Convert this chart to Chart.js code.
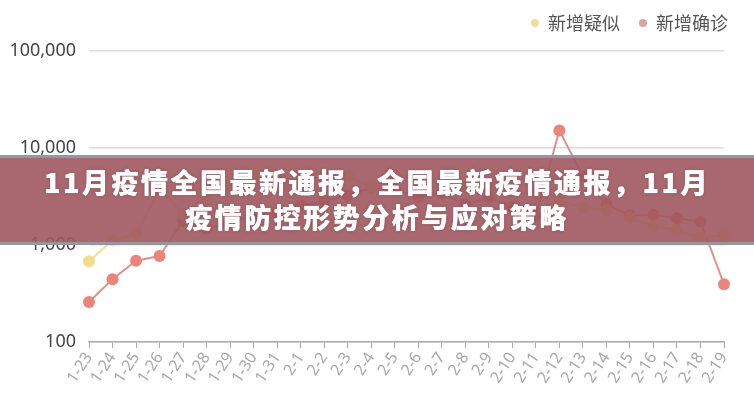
<!DOCTYPE html>
<html>
<head>
<meta charset="utf-8">
<script src="https://cdn.jsdelivr.net/npm/chart.js@4/dist/chart.umd.min.js"></script>
<style>
    html, body { margin: 0; padding: 0; background: #fff; }
    #wrap { position: relative; width: 754px; height: 400px; overflow: hidden; }
    #chart { position: absolute; left: 0; top: 0; }
    .banner {
        position: absolute; left: 0; top: 155px; width: 754px; height: 78px;
        background: rgba(160, 88, 95, 0.9);
        border-top: 3px solid rgba(150, 153, 164, 0.92);
        border-bottom: 3px solid rgba(150, 153, 164, 0.92);
        color: #fff; text-align: center;
        font-family: "Noto Sans CJK SC", sans-serif; font-weight: 900;
        font-size: 27px; line-height: 35px; letter-spacing: 2.5px;
        padding-top: 6px; box-sizing: content-box;
        text-shadow: 0 0 1px #fff, 0 0 3px rgba(60, 20, 25, 0.5);
    }
</style>
</head>
<body>
<div id="wrap">
    <canvas id="chart" width="754" height="400"></canvas>
    <div class="banner">11月疫情全国最新通报，全国最新疫情通报，11月<br>疫情防控形势分析与应对策略</div>
</div>
<script>
// 日期
const dates = ['1-23', '1-24', '1-25', '1-26', '1-27', '1-28', '1-29', '1-30', '1-31',
    '2-1', '2-2', '2-3', '2-4', '2-5', '2-6', '2-7', '2-8', '2-9', '2-10',
    '2-11', '2-12', '2-13', '2-14', '2-15', '2-16', '2-17', '2-18', '2-19'];

// 新增疑似
const suspected = [680, 1118, 1309, 3806, 2077, 3248, 4148, 4812, 5019,
    4562, 5173, 5072, 3971, 5328, 4833, 4214, 3916, 4008, 3536,
    3342, 2807, 2450, 2277, 1918, 1563, 1432, 1185, 1277];

// 新增确诊
const confirmed = [259, 444, 688, 769, 1771, 1459, 1737, 1982, 2102,
    2590, 2829, 3235, 3887, 3694, 3143, 3399, 2656, 3062, 2478,
    2015, 15152, 5090, 2641, 2009, 2048, 1886, 1749, 394];

// y 轴刻度
const yTicks = [100, 1000, 10000, 100000];

const legendColors = ['#f1dca6', '#d9a4a6'];

// 图例（右上角）
const legendPlugin = {
    id: 'topLegend',
    afterDraw(chart) {
        const ctx = chart.ctx;
        const items = chart.data.datasets;
        const xs = [535, 643];
        ctx.save();
        ctx.font = '18px "Noto Sans CJK SC", sans-serif';
        ctx.textBaseline = 'middle';
        items.forEach((ds, i) => {
            ctx.fillStyle = legendColors[i];
            ctx.beginPath();
            ctx.arc(xs[i], 23, 4, 0, Math.PI * 2);
            ctx.fill();
            ctx.fillStyle = '#555';
            ctx.fillText(ds.label, xs[i] + 13, 23);
        });
        ctx.restore();
    }
};

const ctx = document.getElementById('chart').getContext('2d');
new Chart(ctx, {
    type: 'line',
    data: {
        labels: dates,
        datasets: [{
            label: '新增疑似',
            data: suspected,
            borderColor: '#f2dc96',
            backgroundColor: '#f4dc8e',
            pointBackgroundColor: '#f4dc8e',
            pointBorderWidth: 0,
            borderWidth: 2,
            pointRadius: 6,
            tension: 0
        }, {
            label: '新增确诊',
            data: confirmed,
            borderColor: '#d8948c',
            backgroundColor: '#e9857a',
            pointBackgroundColor: '#e9857a',
            pointBorderWidth: 0,
            borderWidth: 2,
            pointRadius: 6,
            tension: 0
        }]
    },
    options: {
        responsive: false,
        animation: false,
        layout: { padding: { top: 51, right: 30, left: 0, bottom: 0 } },
        plugins: {
            legend: { display: false },
            tooltip: { enabled: false }
        },
        scales: {
            x: {
                type: 'category',
                offset: false,
                afterFit(scale) { scale.height = 58; },
                grid: { drawOnChartArea: false, drawTicks: true, tickLength: 6, color: '#aaa' },
                border: { color: '#aaa', width: 1.5 },
                ticks: {
                    autoSkip: false,
                    minRotation: 57,
                    maxRotation: 57,
                    padding: 1,
                    color: '#a8a8a8',
                    font: { family: 'Noto Sans', size: 16 }
                }
            },
            y: {
                type: 'logarithmic',
                min: 100,
                max: 100000,
                afterFit(scale) { scale.width = 89; },
                afterBuildTicks(scale) { scale.ticks = yTicks.map(v => ({ value: v })); },
                grid: { color: '#dcdcdc', lineWidth: 1.5, drawTicks: false },
                border: { display: false },
                ticks: {
                    padding: 13,
                    color: '#444',
                    font: { family: 'Noto Sans', size: 18 },
                    callback: (v) => Number(v).toLocaleString('en-US')
                }
            }
        }
    },
    plugins: [legendPlugin]
});
</script>
</body>
</html>
